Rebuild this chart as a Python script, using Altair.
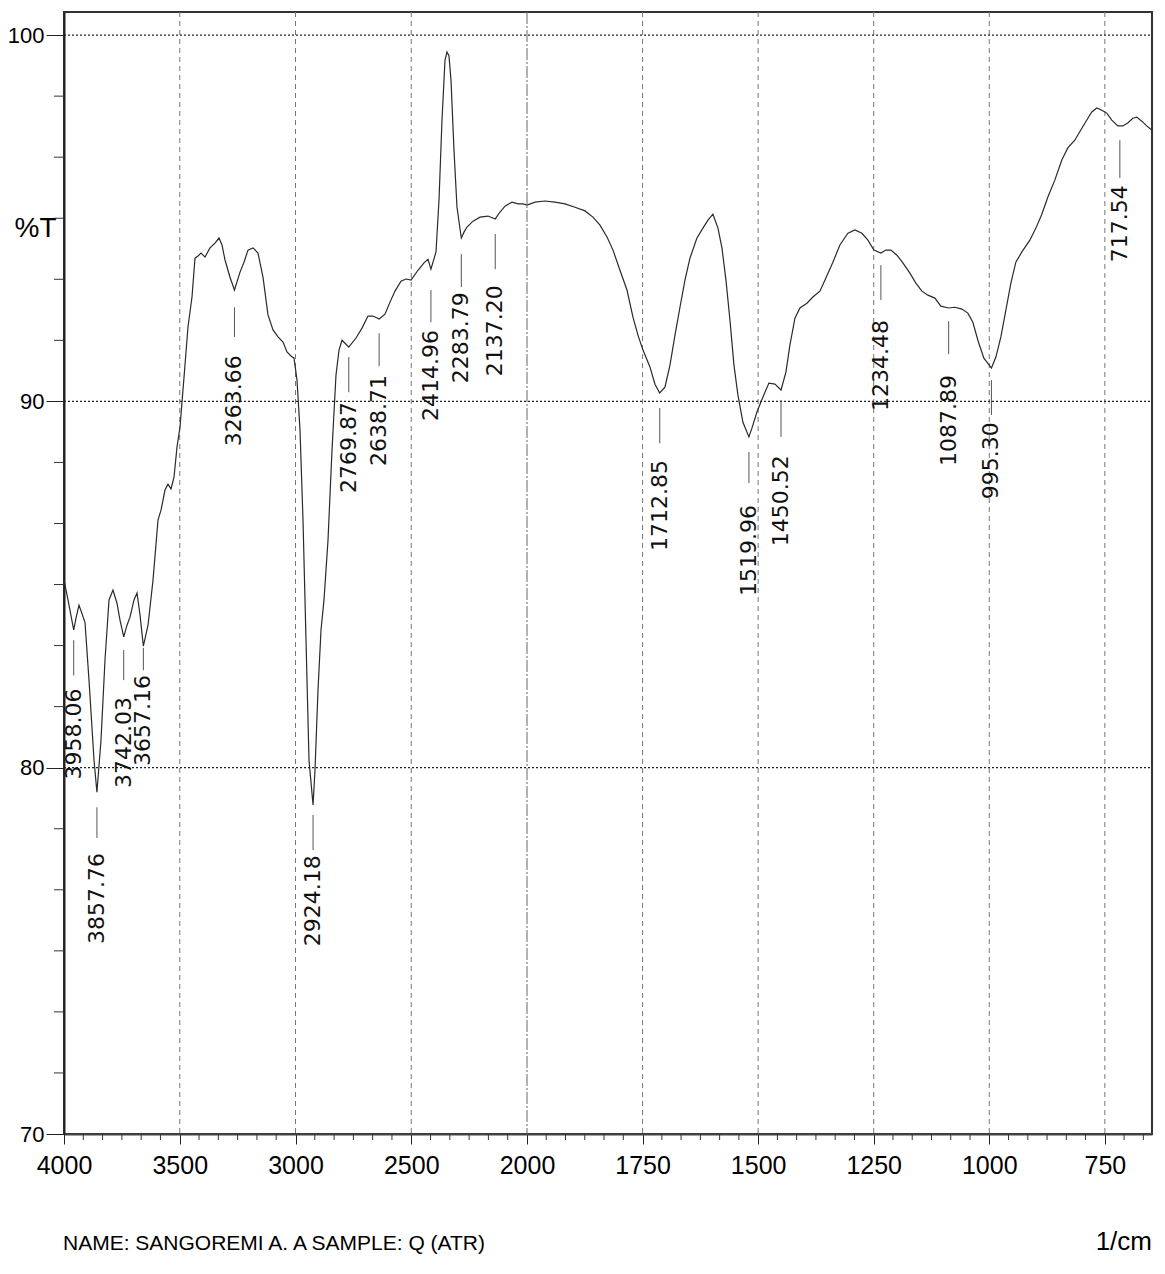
import altair as alt
import pandas as pd

# ---- spectrum (wavenumber in 1/cm, %T) ----
wavenumber = [
    4000, 3982.7, 3958.1, 3948.2, 3935.2, 3909.3, 3892.0, 3870.4, 3857.8, 3840.2,
    3822.9, 3805.6, 3788.3, 3771.1, 3758.1, 3742.0, 3727.9, 3714.9, 3697.6, 3684.6,
    3671.7, 3657.2, 3637.1, 3615.5, 3593.9, 3581.0, 3563.7, 3550.8, 3537.8, 3524.8,
    3511.9, 3498.9, 3490.3, 3481.6, 3464.4, 3447.1, 3434.1, 3421.2, 3408.2, 3390.9,
    3369.3, 3347.7, 3330.5, 3317.5, 3304.5, 3282.9, 3263.7, 3239.7, 3222.4, 3205.2,
    3183.6, 3162.0, 3140.4, 3118.8, 3097.2, 3075.6, 3054.0, 3036.7, 3019.4, 3006.4,
    2993.5, 2980.5, 2967.6, 2954.6, 2941.7, 2924.2, 2915.8, 2902.8, 2889.8, 2876.9,
    2859.6, 2842.3, 2825.1, 2812.1, 2799.1, 2781.9, 2769.9, 2738.7, 2712.7, 2686.8,
    2665.2, 2638.7, 2613.4, 2591.8, 2570.2, 2544.3, 2522.7, 2501.0, 2470.8, 2444.9,
    2427.6, 2415.0, 2393.1, 2380.1, 2367.2, 2354.2, 2345.6, 2337.0, 2328.3, 2315.4,
    2302.4, 2283.8, 2272.1, 2259.2, 2233.2, 2203.0, 2168.4, 2137.2, 2116.6, 2095.0,
    2064.8, 2038.9, 2017.3, 2000.0,
    1982.7, 1961.1, 1939.4, 1917.8, 1896.2, 1874.6, 1857.3, 1842.1, 1826.9, 1814.0,
    1798.9, 1783.7, 1770.8, 1760.0, 1749.1, 1734.0, 1723.2, 1712.9, 1701.6, 1690.7,
    1679.9, 1669.1, 1658.3, 1647.5, 1632.4, 1619.4, 1608.6, 1597.8, 1586.9, 1578.3,
    1569.6, 1561.0, 1552.3, 1543.7, 1532.9, 1520.0, 1513.4, 1502.6, 1489.6, 1476.7,
    1463.7, 1450.5, 1439.9, 1431.2, 1420.4, 1409.6, 1394.5, 1381.5, 1366.4, 1353.4,
    1338.3, 1323.1, 1305.8, 1290.7, 1275.5, 1262.5, 1249.6, 1234.5, 1223.6, 1212.8,
    1199.8, 1186.9, 1171.7, 1158.8, 1145.8, 1132.8, 1117.7, 1104.7, 1087.9, 1074.4,
    1059.3, 1046.3, 1035.5, 1024.7, 1011.7, 995.3, 985.7, 974.9, 964.1, 953.3,
    942.5, 929.5, 912.2, 899.2, 886.3, 873.3, 858.2, 843.1, 830.1, 815.0,
    802.0, 789.0, 778.2, 767.4, 756.6, 745.8, 735.0, 722.0, 711.2, 700.4,
    689.6, 680.9, 670.1, 659.3, 648.5,
]
transmittance = [
    85.12, 84.58, 83.76, 84.08, 84.44, 83.97, 82.39, 80.21, 79.33, 80.75,
    82.94, 84.58, 84.85, 84.49, 84.03, 83.57, 83.89, 84.11, 84.58, 84.77,
    84.17, 83.32, 83.89, 85.12, 86.76, 87.03, 87.58, 87.74, 87.61, 87.93,
    88.75, 89.30, 89.98, 90.66, 92.03, 92.85, 93.91, 93.97, 94.05, 93.94,
    94.19, 94.32, 94.46, 94.27, 93.86, 93.39, 93.04, 93.53, 93.80, 94.13,
    94.19, 94.05, 93.39, 92.36, 91.95, 91.76, 91.62, 91.35, 91.24, 91.18,
    90.58, 89.22, 86.76, 83.48, 80.21, 78.98, 79.93, 82.12, 83.76, 84.58,
    86.21, 88.67, 90.72, 91.40, 91.67, 91.56, 91.48, 91.73, 92.00, 92.33,
    92.33, 92.25, 92.38, 92.71, 93.01, 93.28, 93.34, 93.31, 93.58, 93.78,
    93.88, 93.61, 94.08, 95.50, 97.68, 99.32, 99.54, 99.43, 98.77, 96.86,
    95.30, 94.46, 94.62, 94.76, 94.92, 95.03, 95.06, 94.98, 95.17, 95.33,
    95.44, 95.39, 95.39, 95.36,
    95.44, 95.47, 95.44, 95.39, 95.30, 95.20, 95.03, 94.81, 94.49, 94.13,
    93.58, 93.04, 92.30, 91.81, 91.40, 90.94, 90.47, 90.23, 90.39, 90.99,
    91.81, 92.57, 93.31, 93.91, 94.46, 94.73, 94.95, 95.11, 94.73, 94.19,
    93.31, 92.22, 90.99, 90.17, 89.43, 89.03, 89.27, 89.71, 90.12, 90.50,
    90.47, 90.31, 90.80, 91.54, 92.27, 92.55, 92.68, 92.85, 93.01, 93.37,
    93.80, 94.27, 94.59, 94.68, 94.59, 94.40, 94.13, 94.05, 94.13, 94.13,
    93.99, 93.78, 93.50, 93.23, 93.01, 92.90, 92.82, 92.60, 92.55, 92.57,
    92.52, 92.41, 92.16, 91.67, 91.18, 90.91, 91.21, 91.76, 92.49, 93.23,
    93.80, 94.08, 94.40, 94.73, 95.11, 95.58, 96.04, 96.59, 96.92, 97.13,
    97.41, 97.68, 97.90, 98.01, 97.95, 97.87, 97.68, 97.52, 97.52, 97.60,
    97.73, 97.76, 97.65, 97.52, 97.41,
]

# ---- peak annotations ----
peak_labels = ["3958.06", "3857.76", "3742.03", "3657.16", "3263.66", "2924.18",
               "2769.87", "2638.71", "2414.96", "2283.79", "2137.20", "1712.85",
               "1519.96", "1450.52", "1234.48", "1087.89", "995.30", "717.54"]
peak_wn = [3958.06, 3857.76, 3742.03, 3657.16, 3263.66, 2924.18,
           2769.87, 2638.71, 2414.96, 2283.79, 2137.20, 1712.85,
           1519.96, 1450.52, 1234.48, 1087.89, 995.30, 717.54]
leader_top = [83.48, 78.92, 83.21, 83.27, 92.57, 78.71, 91.21, 91.86, 93.04,
              94.02, 94.57, 89.82, 88.62, 90.04, 93.72, 92.19, 90.58, 97.13]
leader_bottom = [82.52, 78.08, 82.39, 82.66, 91.76, 77.75, 90.25, 90.96, 92.16,
                 93.12, 93.61, 88.86, 87.77, 89.03, 92.77, 91.29, 89.63, 96.10]
label_top = [82.16, 77.67, 81.93, 82.53, 91.26, 77.61, 89.98, 90.72, 91.95,
             92.98, 93.17, 88.40, 87.17, 88.53, 92.22, 90.72, 89.43, 95.90]

# ---- axes and captions ----
x_ticks = [4000, 3500, 3000, 2500, 2000, 1750, 1500, 1250, 1000, 750]
x_grid_dashed = [3500, 3000, 2500, 1750, 1500, 1250, 1000, 750]
x_grid_solid = [2000]
y_ticks = [100, 90, 80, 70]
y_grid = [100, 90, 80]
caption_text = ["NAME:  SANGOREMI A. A SAMPLE: Q (ATR)", "1/cm"]

W, H = 1088, 1122
SANS = "Liberation Sans, Arial, sans-serif"
LABELFONT = "DejaVu Sans, Arial, sans-serif"

xscale = alt.Scale(domain=[4000, 2000, 648], range=[0, 463, W], nice=False, zero=False)
yscale = alt.Scale(domain=[70, 100.63], nice=False, zero=False)

# minor tick positions (6 per major interval)
x_minor = [4000 - k * 500 / 6 for k in range(1, 24) if k % 6]
x_minor += [2000 - k * 250 / 6 for k in range(1, 33) if k % 6 and 2000 - k * 250 / 6 > 648]
y_minor = [70 + k * 10 / 6 for k in range(1, 19) if k % 6]

spec = pd.DataFrame({"wn": wavenumber, "T": transmittance})
peaks = pd.DataFrame({"wn": peak_wn, "label": peak_labels, "lt": leader_top,
                      "lb": leader_bottom, "tt": label_top})

x_axis = alt.Axis(values=x_ticks, format="d", tickSize=10, tickColor="#222", tickWidth=1,
                  domainColor="#444", domainWidth=2, grid=False,
                  labelFont=SANS, labelFontSize=25, labelColor="#000", labelPadding=9,
                  labelFlush=False, labelOverlap=False, title=None)
y_axis = alt.Axis(values=y_ticks, format="d", tickSize=18, tickColor="#222", tickWidth=1,
                  domainColor="#222", domainWidth=2, grid=False,
                  labelFont=SANS, labelFontSize=22, labelColor="#000", labelPadding=2,
                  labelFlush=False, labelOverlap=False,
                  title="%T", titleAngle=0, titleFont=SANS, titleFontSize=28,
                  titleFontWeight="normal", titleColor="#000", titleAlign="left",
                  titleX=-50, titleY=224, titleBaseline="alphabetic")


def X(field):
    return alt.X(field, type="quantitative", scale=xscale, axis=x_axis)


def Y(field):
    return alt.Y(field, type="quantitative", scale=yscale, axis=y_axis)


vgrid = alt.Chart(pd.DataFrame({"wn": x_grid_dashed})).mark_rule(
    color="#777", strokeWidth=1, strokeDash=[5, 4]
).encode(x=X("wn"), y=alt.value(0), y2=alt.value(H))

vgrid2 = alt.Chart(pd.DataFrame({"wn": x_grid_solid})).mark_rule(
    color="#666", strokeWidth=1, strokeDash=[12, 2, 2, 2]
).encode(x=X("wn"), y=alt.value(0), y2=alt.value(H))

hgrid = alt.Chart(pd.DataFrame({"T": y_grid})).mark_rule(
    color="#222", strokeWidth=1.2, strokeDash=[2, 2]
).encode(y=Y("T"), x=alt.value(0), x2=alt.value(W))

xminor = alt.Chart(pd.DataFrame({"wn": x_minor})).mark_rule(
    color="#333", strokeWidth=1
).encode(x=X("wn"), y=alt.value(H), y2=alt.value(H + 6))

yminor = alt.Chart(pd.DataFrame({"T": y_minor})).mark_rule(
    color="#333", strokeWidth=1
).encode(y=Y("T"), x=alt.value(-10), x2=alt.value(0))

line = alt.Chart(spec).mark_line(color="#2a2a2a", strokeWidth=1.2).encode(
    x=X("wn"), y=Y("T"),
)

leaders = alt.Chart(peaks).mark_rule(color="#555", strokeWidth=1).encode(
    x=X("wn"), y=Y("lt"), y2="lb:Q",
)

labels = alt.Chart(peaks).mark_text(
    angle=270, align="right", baseline="middle", font=LABELFONT, fontSize=22, color="#111"
).encode(
    x=X("wn"), y=Y("tt"), text="label:N",
)

name_caption = alt.Chart(pd.DataFrame({"t": caption_text[:1]})).mark_text(
    align="left", baseline="alphabetic", font=SANS, fontSize=21, color="#000"
).encode(x=alt.value(-1), y=alt.value(1238), text="t:N")

unit_caption = alt.Chart(pd.DataFrame({"t": caption_text[1:]})).mark_text(
    align="right", baseline="alphabetic", font=SANS, fontSize=26, color="#000"
).encode(x=alt.value(1088), y=alt.value(1238), text="t:N")

chart = alt.layer(vgrid, vgrid2, hgrid, xminor, yminor, line, leaders, labels,
                  name_caption, unit_caption).properties(
    width=W, height=H,
    padding={"left": 56, "top": 4, "right": 5, "bottom": 124},
    autosize=alt.AutoSizeParams(type="none"),
).configure_view(stroke="#333", strokeWidth=2)

chart.save("out.html", embed_options={"renderer": "svg", "actions": False})
